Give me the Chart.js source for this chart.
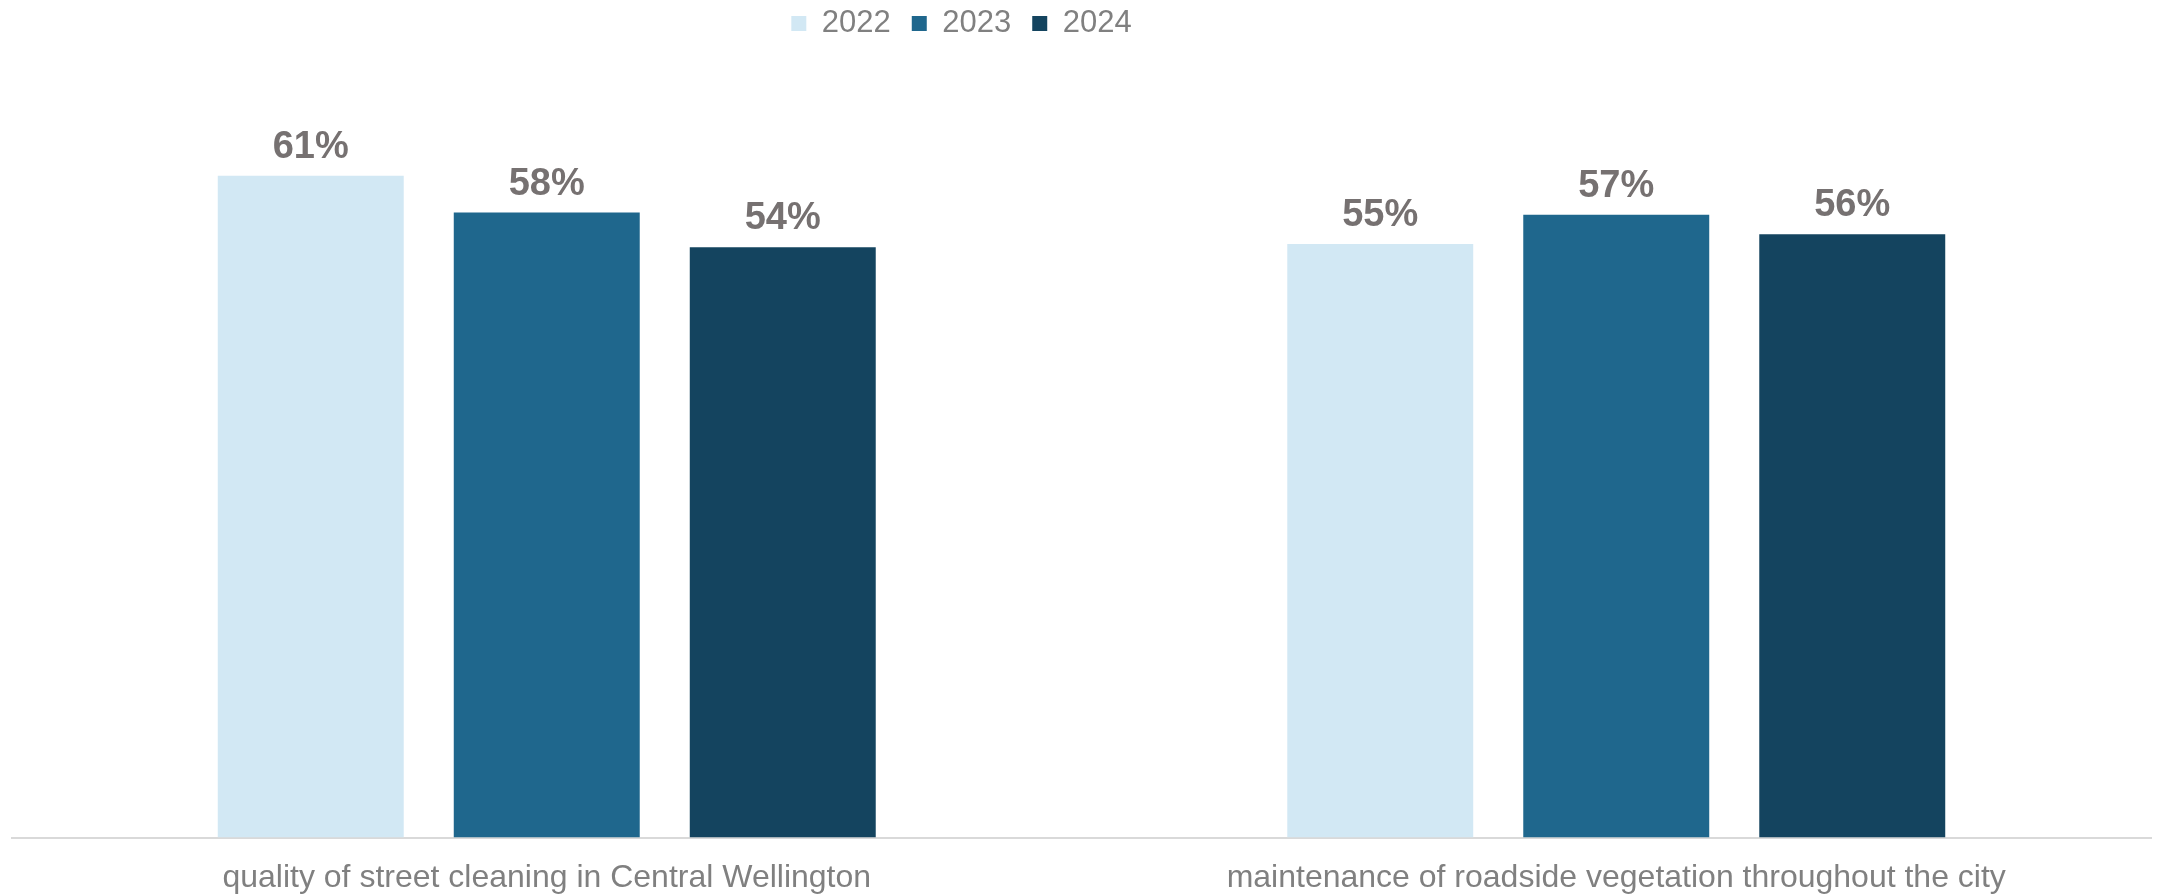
<!DOCTYPE html>
<html>
<head>
<meta charset="utf-8">
<script src="https://cdn.jsdelivr.net/npm/chart.js@4/dist/chart.umd.min.js"></script>
<style>
  html, body { margin: 0; padding: 0; background: #ffffff; }
  #wrap { position: relative; width: 2158px; height: 895px; }
</style>
</head>
<body>
<div id="wrap"><canvas id="c" width="2158" height="895"></canvas></div>
<script>
const categories = [
  'quality of street cleaning in Central Wellington',
  'maintenance of roadside vegetation throughout the city'
];
const seriesNames = ['2022', '2023', '2024'];
const values2022 = [61, 54.7];
const values2023 = [57.6, 57.4];
const values2024 = [54.4, 55.6];
const seriesColors = ['#d2e8f4', '#1f678d', '#14445f'];

const FONT = '"Liberation Sans", Arial, sans-serif';

const valueLabels = {
  id: 'valueLabels',
  afterDatasetsDraw(chart) {
    const ctx = chart.ctx;
    ctx.save();
    ctx.font = 'bold 38px ' + FONT;
    ctx.fillStyle = '#767171';
    ctx.textAlign = 'center';
    ctx.textBaseline = 'alphabetic';
    chart.data.datasets.forEach((ds, i) => {
      const meta = chart.getDatasetMeta(i);
      meta.data.forEach((bar, j) => {
        ctx.fillText(Math.round(ds.data[j]) + '%', bar.x, bar.y - 18);
      });
    });
    ctx.restore();
  }
};

const legendShift = {
  id: 'legendShift',
  afterLayout(chart) {
    const lg = chart.legend;
    if (lg) {
      lg.left -= 120; lg.right -= 120;
      lg.top -= 29; lg.bottom -= 29;
    }
  }
};

new Chart(document.getElementById('c'), {
  type: 'bar',
  data: {
    labels: categories,
    datasets: [
      { label: seriesNames[0], data: values2022, backgroundColor: seriesColors[0] },
      { label: seriesNames[1], data: values2023, backgroundColor: seriesColors[1] },
      { label: seriesNames[2], data: values2024, backgroundColor: seriesColors[2] }
    ]
  },
  options: {
    responsive: false,
    animation: false,
    devicePixelRatio: 1,
    layout: { padding: { left: 12, right: 7, top: 16, bottom: -23 } },
    datasets: { bar: { categoryPercentage: 0.662, barPercentage: 0.788 } },
    plugins: {
      legend: {
        position: 'top',
        align: 'center',
        labels: {
          boxWidth: 15,
          boxHeight: 15,
          padding: 21,
          color: '#808080',
          font: { family: FONT, size: 31 }
        }
      },
      tooltip: { enabled: false }
    },
    scales: {
      x: {
        grid: { display: false, drawTicks: false },
        border: { display: true, color: '#d9d9d9', width: 2 },
        ticks: {
          color: '#808080',
          padding: 21,
          maxRotation: 0,
          font: { family: FONT, size: 32 }
        }
      },
      y: {
        display: false,
        min: 0,
        max: 70
      }
    }
  },
  plugins: [valueLabels, legendShift]
});
</script>
</body>
</html>
